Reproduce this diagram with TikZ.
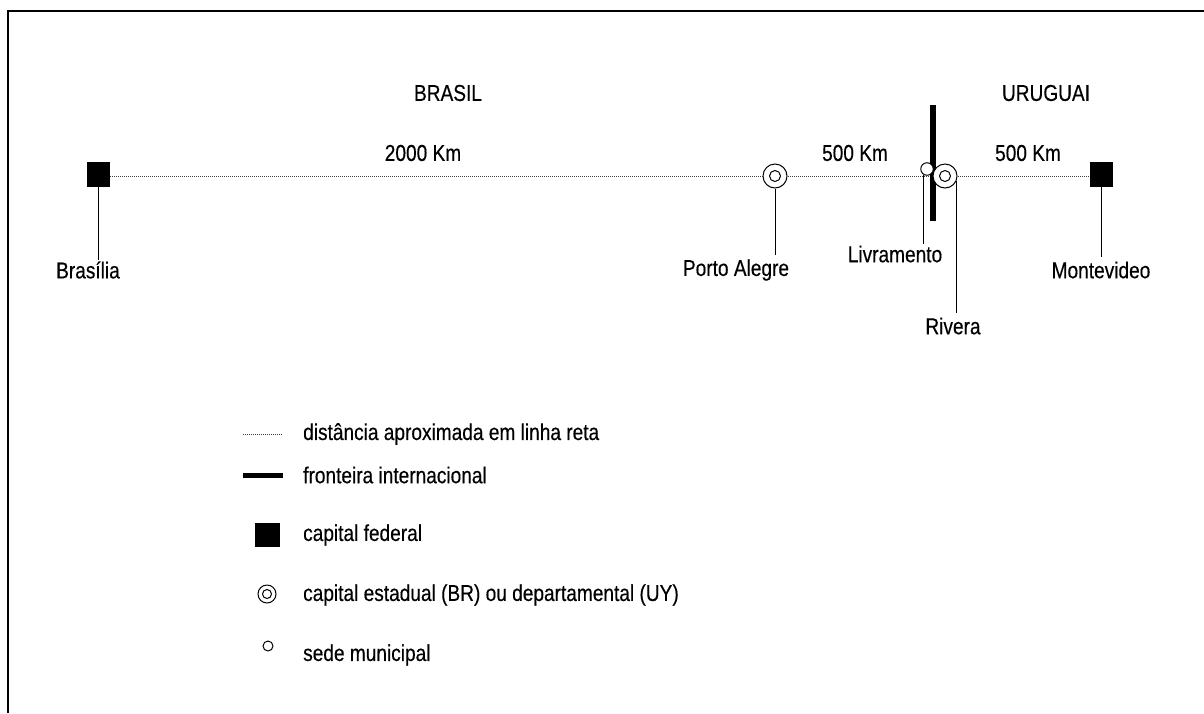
\documentclass[tikz,border=0pt]{standalone}
\usepackage{fontspec}
\setmainfont{Liberation Sans}[FakeStretch=0.83,FakeBold=0.35]
\begin{document}
\begin{tikzpicture}[x=1pt,y=-1pt,
  txt/.style={font=\fontsize{23}{26}\selectfont, inner sep=0pt},
  capsq/.style={rectangle, fill=black, minimum width=23pt, minimum height=25pt, inner sep=0pt},
  dcirc/.style={circle, draw, fill=white, line width=1pt, minimum size=24pt, inner sep=0pt,
     path picture={\draw[line width=1pt] (path picture bounding box.center) circle (5.5pt);}},
  scirc/.style={circle, draw, fill=white, line width=1pt, minimum size=12.5pt, inner sep=0pt},
  dist/.style={black!75, line width=0.9pt, dash pattern=on 1pt off 1pt},
  lead/.style={line width=1pt},
  border/.style={line width=6pt}]
\useasboundingbox (0,0) rectangle (1204,713);
\draw[line width=1.5pt] (8,713) -- (8,11) -- (1204,11);

% cities
\node[capsq] (bsb) at (98.5,174.5) {};
\node[capsq] (mvd) at (1101.5,174.5) {};
\coordinate (poac) at (775,176);
\coordinate (rivc) at (945,176);
\coordinate (bt) at (933,105);
\coordinate (bb) at (933,221);

% distance line
\draw[dist] (bsb.east |- poac) -- (poac) -- (rivc) -- (mvd.west |- rivc);
\draw[border] (bt) -- (bb);
\node[dcirc] (poa) at (poac) {};
\node[scirc] (liv) at (927,169) {};
\node[dcirc] (riv) at (rivc) {};

% labels
\node[txt] (lbr) at (448,93) {BRASIL};
\node[txt] (luy) at (1046,93) {URUGUAI};
\node[txt] (d1) at (423,153) {2000 Km};
\node[txt] (d2) at (855,153) {500 Km};
\node[txt] (d3) at (1028,153) {500 Km};

\node[txt] (lbsb) at (88,270) {Brasília};
\node[txt] (lpoa) at (736,270) {Porto Alegre};
\node[txt] (lliv) at (895,254) {Livramento};
\node[txt] (lriv) at (953,326) {Rivera};
\node[txt] (lmvd) at (1101,270) {Montevideo};

\draw[lead] (bsb.south) -- (bsb.south |- 0,260);
\draw[lead] (poa.south) -- (poa.south |- 0,255);
\draw[lead] (liv.235) -- (liv.235 |- 0,244);
\draw[lead] (riv.-24) -- (riv.-24 |- 0,313);
\draw[lead] (mvd.south) -- (mvd.south |- 0,257);

% legend
\coordinate (k1a) at (243,434); \coordinate (k1b) at (283,434);
\draw[dist] (k1a) -- (k1b);
\node[txt, anchor=west] (t1) at (303,434) {distância aproximada em linha reta};
\coordinate (k2a) at (243,475); \coordinate (k2b) at (283,475);
\draw[line width=5pt] (k2a) -- (k2b);
\node[txt, anchor=west] (t2) at (303,475) {fronteira internacional};
\node[capsq, minimum width=25pt, minimum height=24pt] (k3) at (267.5,535) {};
\node[txt, anchor=west] (t3) at (303,535) {capital federal};
\node[circle, draw, line width=1pt, minimum size=18pt, inner sep=0pt,
  path picture={\draw[line width=1pt] (path picture bounding box.center) circle (4.5pt);}] (k4) at (267,594) {};
\node[txt, anchor=west] (t4) at (303,595) {capital estadual (BR) ou departamental (UY)};
\node[circle, draw, line width=1pt, minimum size=10pt, inner sep=0pt] (k5) at (268,646) {};
\node[txt, anchor=west] (t5) at (303,655) {sede municipal};
\end{tikzpicture}
\end{document}
